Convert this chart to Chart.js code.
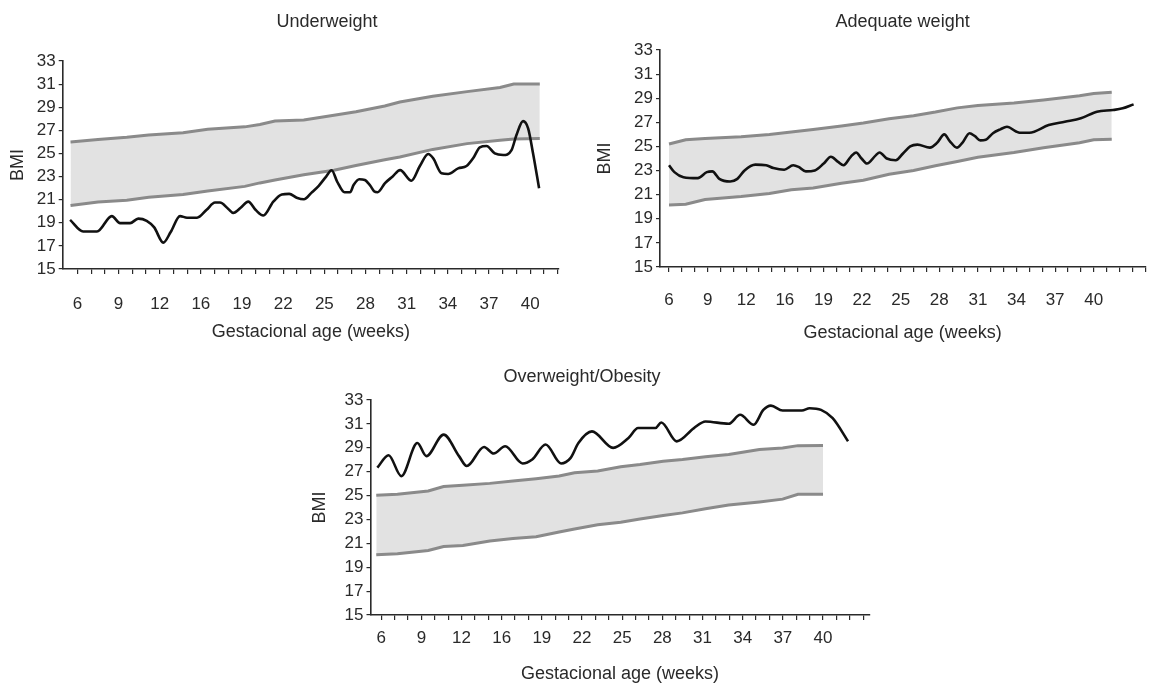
<!DOCTYPE html>
<html><head><meta charset="utf-8">
<script src="https://cdn.jsdelivr.net/npm/chart.js@4.4.0/dist/chart.umd.min.js"></script>
<style>
html,body{margin:0;padding:0;background:#fff;width:1163px;height:686px;overflow:hidden}
.box{position:absolute}
</style></head><body>
<div class="box" style="left:0px;top:0px;width:654px;height:350px"><canvas id="c1"></canvas></div>
<div class="box" style="left:580px;top:0px;width:583px;height:350px"><canvas id="c2"></canvas></div>
<div class="box" style="left:293px;top:355px;width:578px;height:331px"><canvas id="c3"></canvas></div>
<script>
// ---- shared axis data ----
const weekLabels = ['6','9','12','16','19','22','25','28','31','34','37','40'];
const bmiTicks = [15,17,19,21,23,25,27,29,31,33];
const yTitle = 'BMI';
const xTitle = 'Gestacional age (weeks)';

// ---- Underweight (x = position in weekly tick steps, 0 = week 6) ----
const uwBandWeek = [-0.5,1.5,3.6,5.2,7.7,9.5,12.2,13.3,14.4,16.5,18.7,20.3,22.4,23.5,25.9,28.4,30.8,31.8,33.7];
const uwUpper    = [26.0,26.2,26.4,26.6,26.8,27.1,27.3,27.5,27.8,27.9,28.3,28.6,29.1,29.45,29.95,30.35,30.7,31.0,31.0];
const uwLower    = [20.5,20.8,20.95,21.2,21.45,21.75,22.15,22.45,22.7,23.15,23.55,23.95,24.45,24.7,25.35,25.85,26.15,26.25,26.3];
const uwWeek = [-0.53,0.42,1.43,2.51,3.11,3.84,4.44,5.05,5.6,6.26,6.8,7.48,7.99,8.72,9.42,10.03,10.39,11.0,11.36,11.9,12.45,13.0,13.55,14.28,14.9,15.44,15.98,16.51,17.05,17.59,18.13,18.53,18.93,19.47,19.87,20.14,20.54,20.95,21.35,21.62,21.88,22.42,22.96,23.52,24.35,24.96,25.57,25.93,26.54,27.02,27.75,28.36,28.84,29.33,29.82,30.42,31.03,31.64,32.0,32.48,32.85,33.21,33.65];
const uwBMI  = [19.25,18.25,18.25,19.58,18.97,18.97,19.36,19.17,18.6,17.28,18.2,19.58,19.44,19.44,20.13,20.75,20.75,20.2,19.86,20.3,20.83,20.1,19.63,20.83,21.45,21.5,21.17,21.03,21.59,22.2,23.0,23.55,22.57,21.64,21.64,22.29,22.77,22.71,22.2,21.73,21.64,22.43,22.99,23.56,22.64,23.91,24.95,24.58,23.28,23.22,23.71,23.91,24.58,25.53,25.64,25.0,24.86,25.29,26.59,27.8,27.17,25.0,21.98];

// ---- Adequate weight ----
const awBandWeek = [0,1.3,2.8,5.6,7.8,9.5,11.2,13.4,15.1,17.1,19.0,20.7,22.4,24.0,26.8,29.1,31.9,33.0,34.4];
const awUpper    = [25.2,25.55,25.65,25.8,26.0,26.2,26.4,26.7,26.95,27.3,27.55,27.85,28.2,28.4,28.6,28.85,29.2,29.4,29.5];
const awLower    = [20.15,20.2,20.6,20.85,21.1,21.4,21.55,21.95,22.2,22.7,23.0,23.4,23.75,24.1,24.5,24.9,25.3,25.55,25.6];
const awWeek = [0,0.42,1.12,2.24,2.94,3.36,3.91,4.75,5.31,5.87,6.71,7.55,8.11,8.95,9.65,10.07,10.63,11.33,12.02,12.58,13.14,13.56,14.12,14.54,14.96,15.38,16.08,16.36,16.92,17.62,18.18,18.74,19.3,20.27,20.83,21.39,21.81,22.37,22.79,23.35,23.77,24.19,24.61,25.17,25.74,26.26,27.0,27.25,28.0,29.5,30.75,32.0,33.25,34.5,35.25,36.1];
const awBMI  = [23.44,22.87,22.45,22.37,22.87,22.93,22.31,22.09,22.31,23.01,23.49,23.44,23.21,23.07,23.44,23.3,22.93,23.01,23.58,24.14,23.72,23.44,24.14,24.5,24.0,23.58,24.28,24.5,24.0,23.86,24.42,25.0,25.15,24.9,25.3,26.0,25.45,24.9,25.3,26.1,25.85,25.5,25.55,26.1,26.42,26.63,26.22,26.14,26.14,26.77,27.05,27.33,27.88,28.02,28.16,28.49];

// ---- Overweight/Obesity ----
const owBandWeek = [-0.37,1.21,3.51,4.66,6.1,8.11,9.84,11.57,13.29,14.44,16.17,17.89,19.33,21.06,22.5,24.22,25.95,28.25,29.98,31.13,33.0];
const owUpper    = [25.03,25.11,25.39,25.75,25.86,26.02,26.22,26.41,26.63,26.91,27.05,27.41,27.6,27.88,28.02,28.24,28.43,28.85,28.99,29.18,29.2];
const owLower    = [20.04,20.12,20.4,20.73,20.81,21.2,21.4,21.55,21.95,22.2,22.56,22.76,23.03,23.33,23.55,23.9,24.2,24.47,24.7,25.1,25.1];
const owWeek = [-0.29,0.55,1.5,2.7,3.37,4.66,5.81,6.39,7.68,8.4,9.26,10.56,11.28,12.28,13.43,14.15,14.73,15.74,17.32,18.47,19.19,20.48,20.92,22.07,23.36,24.22,25.95,26.81,27.82,28.54,29.11,29.98,31.42,32.0,32.85,33.72,34.87];
const owBMI  = [27.33,28.38,26.63,29.4,28.3,30.1,28.3,27.47,29.07,28.52,29.13,27.69,28.02,29.27,27.69,28.16,29.4,30.37,28.99,29.82,30.65,30.65,31.12,29.54,30.65,31.2,31.01,31.76,30.93,32.17,32.53,32.12,32.12,32.31,32.17,31.48,29.54];

const FONT = '"Liberation Sans", Arial, sans-serif';
const TXT = '#2a2a2a';

function pts(xs, ys){ return xs.map((x,i)=>({x:x, y:ys[i]})); }

function build(id, p){
  const scales = {
    x: {
      type:'linear', min:p.xMin, max:p.xMax,
      afterBuildTicks: s => { const t=[]; for(let i=0;i<=p.lastTick;i++) t.push({value:i}); s.ticks=t; },
      afterFit: s => { s.height = p.xH; },
      grid:{drawOnChartArea:false, drawTicks:true, tickLength:5, color:TXT, lineWidth:1.2},
      border:{display:true, color:TXT, width:1.6},
      ticks:{autoSkip:false, maxRotation:0, minRotation:0, padding:p.xPad, color:TXT,
        font:{family:FONT,size:17},
        callback:(v)=> (v%3===0 && weekLabels[v/3]!==undefined) ? weekLabels[v/3] : ''},
      title:{display:true, text:xTitle, color:TXT, font:{family:FONT,size:18}, padding:{top:0,bottom:0}}
    },
    y: {
      type:'linear', min:15, max:33,
      afterBuildTicks: s => { s.ticks = bmiTicks.map(v=>({value:v})); },
      afterFit: s => { s.width = p.yW; },
      grid:{drawOnChartArea:false, drawTicks:true, tickLength:4, color:TXT, lineWidth:1.2},
      border:{display:true, color:TXT, width:1.6},
      ticks:{autoSkip:false, padding:3, color:TXT, font:{family:FONT,size:17}},
      title:{display:true, text:yTitle, color:TXT, font:{family:FONT,size:18}, padding:{top:p.yTitlePad,bottom:0}}
    }
  };
  if (p.rightW) {
    scales.yR = {type:'linear', position:'right', display:true,
      grid:{display:false, drawTicks:false}, border:{display:false}, ticks:{display:false},
      afterFit: s => { s.width = p.rightW; }};
  }
  new Chart(document.getElementById(id), {
    type:'line',
    data:{datasets:[
      {data:pts(p.week,p.bmi), borderColor:'#111', borderWidth:2.6, pointRadius:0,
       cubicInterpolationMode:'monotone', fill:false},
      {data:pts(p.bandWeek,p.upper), borderColor:'#8a8a8a', borderWidth:3, pointRadius:0,
       tension:0, fill:'+1', backgroundColor:'#e2e2e2'},
      {data:pts(p.bandWeek,p.lower), borderColor:'#8a8a8a', borderWidth:3, pointRadius:0,
       tension:0, fill:false}
    ]},
    options:{
      responsive:true, maintainAspectRatio:false, animation:false, events:[],
      layout:{padding:{left:0,right:0,top:0,bottom:p.padBottom}},
      plugins:{legend:{display:false}, tooltip:{enabled:false},
        filler:{drawTime:'beforeDatasetsDraw'},
        title:{display:true, text:p.title, fullSize:p.fullSize, color:TXT,
          font:{family:FONT,size:18,weight:'normal'}, padding:{top:p.tTop,bottom:p.tBottom}}},
      scales:scales
    }
  });
}

build('c1', {title:'Underweight', fullSize:true, tTop:11.2, tBottom:28.2,
  xMin:-1.07, xMax:35.1, lastTick:35, xH:73.8, xPad:19.8, padBottom:7.2,
  yW:62.7, yTitlePad:7.5, rightW:95,
  bandWeek:uwBandWeek, upper:uwUpper, lower:uwLower, week:uwWeek, bmi:uwBMI});

build('c2', {title:'Adequate weight', fullSize:false, tTop:11.2, tBottom:17.2,
  xMin:-0.7, xMax:37, lastTick:37, xH:76.8, xPad:17.8, padBottom:6.2,
  yW:80, yTitlePad:14.2, rightW:0,
  bandWeek:awBandWeek, upper:awUpper, lower:awLower, week:awWeek, bmi:awBMI});

build('c3', {title:'Overweight/Obesity', fullSize:true, tTop:11.2, tBottom:12.2,
  xMin:-0.8, xMax:36.47, lastTick:36, xH:69.8, xPad:7.8, padBottom:1.2,
  yW:77.5, yTitlePad:16.7, rightW:0,
  bandWeek:owBandWeek, upper:owUpper, lower:owLower, week:owWeek, bmi:owBMI});
</script>
</body></html>
